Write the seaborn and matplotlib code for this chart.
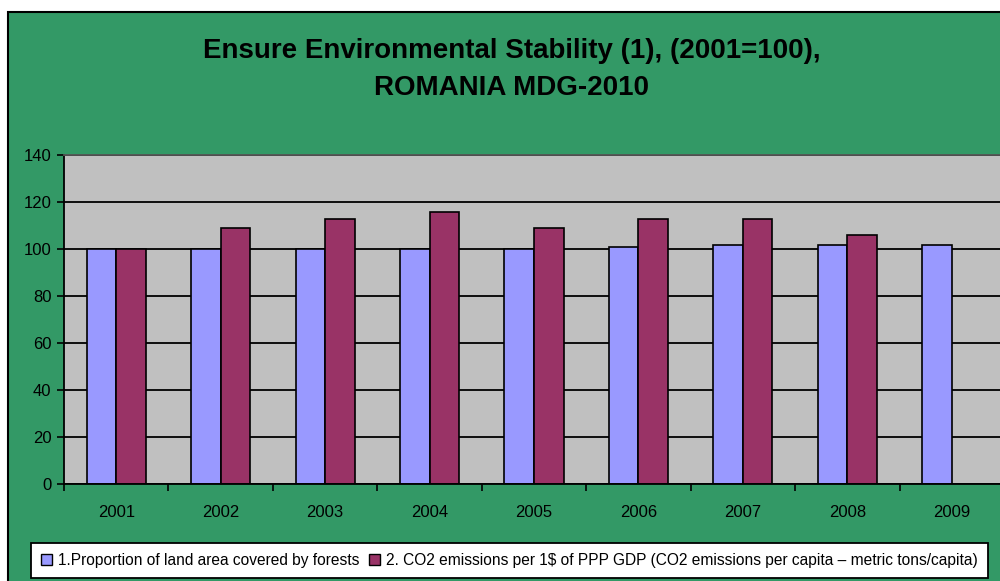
import numpy as np
import pandas as pd
import matplotlib
matplotlib.use("Agg")
import matplotlib.pyplot as plt
from matplotlib.patches import Rectangle, Patch
import seaborn as sns

sns.set_style("white")
plt.rcParams['font.family'] = ['Liberation Sans', 'DejaVu Sans']
plt.rcParams['text.color'] = 'black'
plt.rcParams['xtick.color'] = 'black'
plt.rcParams['ytick.color'] = 'black'

# data (2001=100)
years = ["2001", "2002", "2003", "2004", "2005", "2006", "2007", "2008", "2009"]
forest = [100, 100, 100, 100, 100, 100.7, 101.6, 101.6, 101.6]
co2 = [100, 108.8, 112.9, 115.6, 108.8, 112.9, 112.9, 106.2, np.nan]
series = ["1.Proportion of land area covered by forests",
          "2. CO2 emissions per 1$ of PPP GDP (CO2 emissions per capita \u2013 metric tons/capita)"]
colors = ["#9999FF", "#993366"]

df = pd.DataFrame({
    "year": years * 2,
    "value": forest + co2,
    "series": [series[0]] * len(years) + [series[1]] * len(years),
})

fig = plt.figure(figsize=(10, 5.81), dpi=100)
fig.patch.set_facecolor("white")

# green chart area with black border (cropped on right/bottom)
fig.patches.append(Rectangle((0.008, -0.05), 1.1, 1.05 - 12 / 581,
                             transform=fig.transFigure, facecolor="#339966",
                             edgecolor="black", linewidth=1.5, zorder=-1))

ax = fig.add_axes([0.064, 0.167, 0.94, 0.566])
ax.set_facecolor("#C0C0C0")

sns.barplot(data=df, x="year", y="value", hue="series", hue_order=series,
            palette=colors, width=0.565, edgecolor="black", linewidth=1.2,
            saturation=1, errorbar=None, legend=False, ax=ax)

ax.set_ylim(0, 140)
ax.set_yticks(range(0, 141, 20))
ax.set_xlim(-0.5, len(years) - 0.5)
ax.yaxis.grid(True, color="black", linewidth=1.3)
ax.set_axisbelow(True)
ax.set_xlabel("")
ax.set_ylabel("")

# category boundary ticks
ax.set_xticks(np.arange(len(years)))
ax.set_xticklabels(years)
ax.tick_params(axis="x", length=0, pad=15, labelsize=12)
ax.set_xticks(np.arange(-0.5, len(years)), minor=True)
ax.tick_params(axis="x", which="minor", length=5, width=1.2, color="black",
               direction="out", bottom=True)
ax.tick_params(axis="y", length=5, width=1.2, color="black", direction="out",
               labelsize=12, pad=4, left=True)

for side in ["left", "bottom"]:
    ax.spines[side].set_color("black")
    ax.spines[side].set_linewidth(1.3)
ax.spines["top"].set_color("#555555")
ax.spines["top"].set_linewidth(1.3)
ax.spines["right"].set_visible(False)

fig.text(0.512, 0.913, "Ensure Environmental Stability (1), (2001=100),",
         ha="center", va="center", fontsize=20, fontweight="bold")
fig.text(0.512, 0.848, "ROMANIA MDG-2010",
         ha="center", va="center", fontsize=20, fontweight="bold")

handles = [Patch(facecolor=c, edgecolor="black", linewidth=1.0) for c in colors]
leg = fig.legend(handles, series, ncol=2, loc="center",
                 bbox_to_anchor=(0.5095, 0.0355), frameon=True, fancybox=False,
                 edgecolor="black", facecolor="white", framealpha=1,
                 handlelength=0.7, handleheight=0.7, handletextpad=0.4,
                 columnspacing=0.6, borderpad=0.65,
                 prop={"family": ["Liberation Sans", "DejaVu Sans"], "size": 11.2})
leg.get_frame().set_linewidth(1.3)

fig.savefig("out.png", dpi=100)
